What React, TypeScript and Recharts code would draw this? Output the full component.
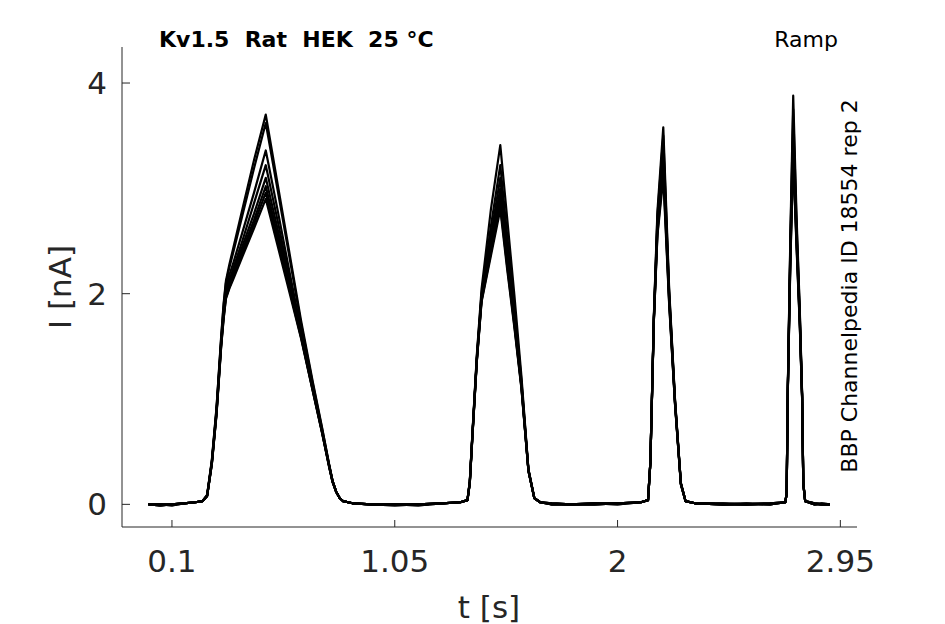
import { Line, LineChart, XAxis, YAxis } from "recharts";

// shared time base [s] for all sweeps
const TIME = [
  0, 0.05, 0.1, 0.15, 0.2, 0.23,
  0.25, 0.27, 0.29, 0.31, 0.32, 0.33, 0.345, 0.36, 0.4, 0.45, 0.5, 0.55, 0.6, 0.65, 0.7, 0.74, 0.77, 0.785, 0.8, 0.815, 0.83, 0.87,
  0.95, 1.05, 1.15, 1.25, 1.33, 1.36, 1.37,
  1.38, 1.4, 1.42, 1.46, 1.5, 1.53, 1.56, 1.59, 1.62, 1.645,
  1.67, 1.72, 1.8, 1.9, 2.0, 2.1, 2.13,
  2.14, 2.155, 2.17, 2.195, 2.22, 2.245, 2.27, 2.29,
  2.33, 2.45, 2.55, 2.65, 2.715, 2.721,
  2.726, 2.737, 2.749, 2.763, 2.777, 2.787, 2.792,
  2.8, 2.84, 2.87, 2.905,
];

// current [nA], one array per sweep
const SWEEP_A = [
  0, -0.01, 0, 0.01, 0.02, 0.03,
  0.09, 0.42, 0.92, 1.6, 1.9, 2.12, 2.28, 2.42, 2.8, 3.27, 3.7, 3.05, 2.4, 1.75, 1.17, 0.73, 0.38, 0.22, 0.12, 0.06, 0.03, 0.01,
  0, 0, 0, 0.01, 0.02, 0.04, 0.22,
  0.63, 1.42, 2.04, 2.8, 3.41, 2.7, 1.99, 1.22, 0.33, 0.06,
  0.02, 0.01, 0, 0, 0.01, 0.02, 0.04,
  0.4, 1.8, 2.78, 3.58, 2.05, 1.0, 0.2, 0.03,
  0.01, 0, 0, 0.01, 0.02, 0.1,
  1.1, 2.57, 3.88, 2.75, 1.85, 1.05, 0.2,
  0.03, 0.01, 0, 0,
];
const SWEEP_B = [
  0, 0, -0.01, 0.01, 0.02, 0.03,
  0.09, 0.41, 0.91, 1.58, 1.88, 2.1, 2.25, 2.38, 2.74, 3.19, 3.62, 2.99, 2.36, 1.72, 1.15, 0.72, 0.38, 0.22, 0.12, 0.06, 0.03, 0.01,
  0, -0.01, 0, 0.01, 0.02, 0.04, 0.22,
  0.62, 1.4, 2.0, 2.64, 3.22, 2.54, 1.88, 1.18, 0.33, 0.06,
  0.02, 0, 0, 0.01, 0, 0.02, 0.04,
  0.4, 1.79, 2.74, 3.5, 2.02, 0.99, 0.2, 0.03,
  0.01, 0, 0.01, 0, 0.02, 0.1,
  1.1, 2.52, 3.75, 2.68, 1.82, 1.04, 0.2,
  0.03, 0, 0.01, 0,
];
const SWEEP_C = [
  0, -0.01, 0, 0.01, 0.02, 0.03,
  0.08, 0.4, 0.89, 1.56, 1.84, 2.05, 2.18, 2.28, 2.58, 2.96, 3.36, 2.8, 2.22, 1.66, 1.12, 0.7, 0.37, 0.22, 0.12, 0.06, 0.03, 0.01,
  0, 0, -0.01, 0.01, 0.02, 0.04, 0.21,
  0.62, 1.39, 1.98, 2.55, 3.1, 2.45, 1.82, 1.16, 0.33, 0.06,
  0.02, 0.01, 0, 0, 0.01, 0.02, 0.04,
  0.4, 1.78, 2.7, 3.42, 2.0, 0.98, 0.2, 0.03,
  0.01, 0, 0, 0.01, 0.02, 0.1,
  1.09, 2.47, 3.62, 2.62, 1.79, 1.03, 0.2,
  0.03, 0.01, 0, 0,
];
const SWEEP_D = [
  0, 0, 0, 0.01, 0.02, 0.03,
  0.08, 0.4, 0.88, 1.54, 1.81, 2.02, 2.13, 2.23, 2.5, 2.86, 3.22, 2.7, 2.16, 1.63, 1.11, 0.7, 0.37, 0.22, 0.12, 0.06, 0.03, 0.01,
  0, 0, 0, 0.01, 0.02, 0.04, 0.21,
  0.61, 1.38, 1.96, 2.49, 3.0, 2.38, 1.78, 1.14, 0.32, 0.06,
  0.02, 0, 0, 0.01, 0.01, 0.02, 0.04,
  0.4, 1.77, 2.66, 3.35, 1.98, 0.97, 0.2, 0.03,
  0.01, 0.01, 0, 0, 0.02, 0.1,
  1.09, 2.43, 3.52, 2.58, 1.77, 1.02, 0.2,
  0.03, 0, 0, 0,
];
const SWEEP_E = [
  0, -0.01, 0, 0.01, 0.02, 0.03,
  0.08, 0.39, 0.87, 1.53, 1.79, 2.0, 2.11, 2.2, 2.45, 2.76, 3.1, 2.62, 2.12, 1.61, 1.1, 0.69, 0.37, 0.22, 0.12, 0.06, 0.03, 0.01,
  0, 0, 0, 0.01, 0.02, 0.04, 0.21,
  0.61, 1.37, 1.95, 2.45, 2.93, 2.32, 1.74, 1.13, 0.32, 0.06,
  0.02, 0.01, 0, 0, 0.01, 0.02, 0.04,
  0.4, 1.77, 2.63, 3.28, 1.96, 0.97, 0.2, 0.03,
  0.01, 0, 0, 0.01, 0.02, 0.1,
  1.09, 2.4, 3.45, 2.55, 1.75, 1.02, 0.2,
  0.03, 0.01, 0, 0,
];
const SWEEP_F = [
  0, 0, -0.01, 0.01, 0.02, 0.03,
  0.08, 0.39, 0.86, 1.52, 1.78, 1.98, 2.08, 2.17, 2.41, 2.7, 3.02, 2.56, 2.08, 1.6, 1.09, 0.69, 0.36, 0.21, 0.12, 0.06, 0.03, 0.01,
  0, -0.01, 0, 0.01, 0.02, 0.04, 0.2,
  0.6, 1.37, 1.94, 2.42, 2.88, 2.28, 1.72, 1.12, 0.32, 0.06,
  0.02, 0, 0, 0.01, 0, 0.02, 0.04,
  0.4, 1.76, 2.6, 3.22, 1.94, 0.96, 0.19, 0.03,
  0.01, 0, 0.01, 0, 0.02, 0.1,
  1.08, 2.36, 3.38, 2.51, 1.73, 1.01, 0.2,
  0.03, 0, 0.01, 0,
];
const SWEEP_G = [
  0, -0.01, 0, 0.01, 0.02, 0.03,
  0.08, 0.38, 0.86, 1.51, 1.76, 1.96, 2.06, 2.15, 2.38, 2.66, 2.96, 2.51, 2.05, 1.59, 1.08, 0.68, 0.36, 0.21, 0.12, 0.06, 0.03, 0.01,
  0, 0, -0.01, 0.01, 0.02, 0.04, 0.2,
  0.6, 1.36, 1.93, 2.39, 2.84, 2.25, 1.7, 1.11, 0.32, 0.06,
  0.02, 0.01, 0, 0, 0.01, 0.02, 0.04,
  0.4, 1.75, 2.57, 3.16, 1.92, 0.95, 0.19, 0.03,
  0.01, 0, 0, 0.01, 0.02, 0.1,
  1.08, 2.33, 3.32, 2.48, 1.71, 1.0, 0.2,
  0.03, 0.01, 0, 0,
];
const SWEEP_H = [
  0, 0, 0, 0.01, 0.02, 0.03,
  0.08, 0.38, 0.85, 1.5, 1.75, 1.95, 2.05, 2.13, 2.35, 2.62, 2.9, 2.46, 2.02, 1.58, 1.08, 0.68, 0.36, 0.21, 0.12, 0.06, 0.03, 0.01,
  0, 0, 0, 0.01, 0.02, 0.04, 0.2,
  0.6, 1.36, 1.92, 2.36, 2.8, 2.22, 1.68, 1.1, 0.32, 0.06,
  0.02, 0, 0, 0.01, 0.01, 0.02, 0.04,
  0.4, 1.75, 2.55, 3.1, 1.9, 0.95, 0.19, 0.03,
  0.01, 0.01, 0, 0, 0.02, 0.1,
  1.08, 2.3, 3.28, 2.45, 1.7, 1.0, 0.2,
  0.03, 0, 0, 0,
];

const SWEEPS = [SWEEP_A, SWEEP_B, SWEEP_C, SWEEP_D, SWEEP_E, SWEEP_F, SWEEP_G, SWEEP_H];

const X_TICKS = [0.1, 1.05, 2, 2.95];
const Y_TICKS = [0, 2, 4];

const data = TIME.map((t, i) => {
  const row: Record<string, number> = { t };
  SWEEPS.forEach((s, k) => {
    row[`s${k}`] = s[i];
  });
  return row;
});

const AXIS = "#262626";
const FONT = "'DejaVu Sans', sans-serif";
const X_MARGIN = 22;
const Y_MARGIN = 15;

// MATLAB-style ticks: short marks pointing into the axes
function XTick({ x, y, payload }: any) {
  const base = y - X_MARGIN;
  return (
    <g>
      <line x1={x} x2={x} y1={base} y2={base - 7} stroke={AXIS} strokeWidth={1} />
      <text x={x} y={y} dy={23} textAnchor="middle" fill={AXIS} fontSize={31} fontFamily={FONT}>
        {String(payload.value)}
      </text>
    </g>
  );
}

function YTick({ x, y, payload }: any) {
  const base = x + Y_MARGIN;
  return (
    <g>
      <line x1={base} x2={base + 8} y1={y} y2={y} stroke={AXIS} strokeWidth={1} />
      <text x={x} y={y} dy={11} textAnchor="end" fill={AXIS} fontSize={31} fontFamily={FONT}>
        {String(payload.value)}
      </text>
    </g>
  );
}

export default function App() {
  return (
    <div style={{ position: "absolute", left: 0, top: 0, width: 945, height: 624, background: "#fff" }}>
      <LineChart width={945} height={624} data={data} margin={{ top: 47, right: 88, bottom: 0, left: 0 }}>
        <XAxis
          type="number"
          dataKey="t"
          domain={[-0.113, 3.021]}
          ticks={X_TICKS}
          interval={0}
          allowDataOverflow
          height={97}
          tickSize={0}
          tickMargin={X_MARGIN}
          tick={<XTick />}
          axisLine={{ stroke: AXIS, strokeWidth: 1 }}
        />
        <YAxis
          type="number"
          domain={[-0.215, 4.342]}
          ticks={Y_TICKS}
          interval={0}
          allowDataOverflow
          width={122}
          tickSize={0}
          tickMargin={Y_MARGIN}
          tick={<YTick />}
          axisLine={{ stroke: AXIS, strokeWidth: 1 }}
        />
        {SWEEPS.map((_, k) => (
          <Line
            key={k}
            type="linear"
            dataKey={`s${k}`}
            stroke="#000"
            strokeWidth={2.2}
            strokeLinejoin="round"
            dot={false}
            activeDot={false}
            isAnimationActive={false}
          />
        ))}
      </LineChart>
      <svg
        width={945}
        height={624}
        style={{ position: "absolute", left: 0, top: 0, pointerEvents: "none" }}
        fontFamily={FONT}
      >
        <text x={159} y={47} fontSize={22} fontWeight="bold" fill="#000" style={{ whiteSpace: "pre" }}>
          {"Kv1.5  Rat  HEK  25 °C"}
        </text>
        <text x={838} y={47} fontSize={22} textAnchor="end" fill="#000">
          Ramp
        </text>
        <text
          transform="translate(857,286) rotate(-90)"
          fontSize={22}
          textAnchor="middle"
          fill="#000"
        >
          BBP Channelpedia ID 18554 rep 2
        </text>
        <text transform="translate(71,287) rotate(-90)" fontSize={31} textAnchor="middle" fill={AXIS}>
          I [nA]
        </text>
        <text x={489} y={618} fontSize={31} textAnchor="middle" fill={AXIS}>
          t [s]
        </text>
      </svg>
    </div>
  );
}
